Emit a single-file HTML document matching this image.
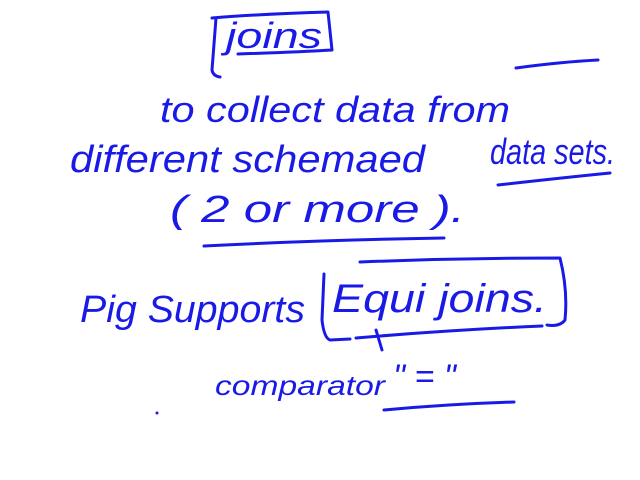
<!DOCTYPE html>
<html><head><style>
html,body{margin:0;padding:0;background:#fff;width:640px;height:480px;overflow:hidden}
svg{display:block}
text{font-family:"Liberation Sans",sans-serif;fill:#1a1ae6;font-style:italic}
path{fill:none;stroke:#1a1ae6;stroke-width:3;stroke-linecap:round;stroke-linejoin:round}
</style></head><body>
<svg width="640" height="480" viewBox="0 0 640 480">
<path d="M216 18 L212 70 Q213 76 220 77"/>
<path d="M212 18 Q260 14 328 12 L332 50 Q300 52 238 54"/>
<text x="226" y="48" font-size="36" textLength="96" lengthAdjust="spacingAndGlyphs">joins</text>
<path d="M516 68 Q560 62 598 60"/>
<text x="160" y="122" font-size="36" textLength="350" lengthAdjust="spacingAndGlyphs">to collect data from</text>
<text x="70" y="172" font-size="38" textLength="355" lengthAdjust="spacingAndGlyphs">different schemaed</text>
<text x="490" y="164" font-size="36" textLength="125" lengthAdjust="spacingAndGlyphs">data sets.</text>
<path d="M498 185 Q560 178 610 173"/>
<text x="170" y="222" font-size="38" textLength="295" lengthAdjust="spacingAndGlyphs">(  2   or   more ).</text>
<path d="M204 246 Q320 240 444 238"/>
<text x="80" y="322" font-size="38" textLength="225" lengthAdjust="spacingAndGlyphs">Pig Supports</text>
<path d="M324 274 L322 320 Q324 338 330 340 L350 339"/>
<path d="M360 262 Q460 258 560 258 Q568 290 565 320 Q560 327 547 325"/>
<path d="M356 338 Q450 330 542 326"/>
<text x="332" y="312" font-size="40" textLength="215" lengthAdjust="spacingAndGlyphs">Equi joins.</text>
<path d="M376 330 L382 350"/>
<text x="215" y="395" font-size="28" textLength="170" lengthAdjust="spacingAndGlyphs">comparator</text>
<text x="393" y="388" font-size="34">" = "</text>
<path d="M384 410 Q450 404 514 402"/>
<circle cx="157" cy="413" r="1.5" fill="#1a1ae6"/>
</svg>
</body></html>
